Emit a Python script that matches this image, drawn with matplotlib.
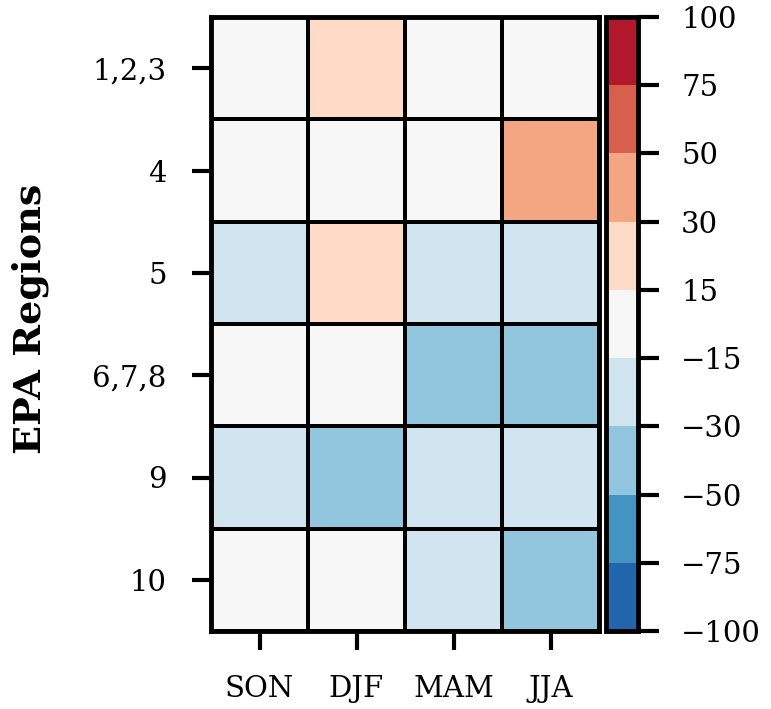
import numpy as np
import matplotlib
matplotlib.use("Agg")
import matplotlib.pyplot as plt
from matplotlib.colors import ListedColormap, BoundaryNorm

seasons = ["SON", "DJF", "MAM", "JJA"]
regions = ["1,2,3", "4", "5", "6,7,8", "9", "10"]

# percent change per region (rows) and season (cols)
vals = np.array([
    [2, 22, 5, 8],
    [-4, 6, 3, 40],
    [-20, 18, -22, -24],
    [-10, -3, -38, -40],
    [-22, -42, -25, -21],
    [0, 4, -20, -35],
])

bounds = [-100, -75, -50, -30, -15, 15, 30, 50, 75, 100]
colors = ["#2166ac", "#4393c3", "#92c5de", "#d1e5f0", "#f7f7f7",
          "#fddbc7", "#f4a582", "#d6604d", "#b2182b"]

plt.rcParams["font.family"] = "DejaVu Serif"

cmap = ListedColormap(colors)
norm = BoundaryNorm(bounds, cmap.N)

fig = plt.figure(figsize=(7.71, 7.09), dpi=100)
ax = fig.add_axes([211/771, 1-631/709, (599-211)/771, (631-17)/709])
cax = fig.add_axes([606/771, 1-631/709, (638-606)/771, (631-17)/709])

mesh = ax.pcolormesh(vals, cmap=cmap, norm=norm, edgecolors="black", linewidth=2.6)
ax.set_xlim(0, len(seasons))
ax.set_ylim(len(regions), 0)
ax.set_xticks(np.arange(len(seasons)) + 0.5)
ax.set_xticklabels(seasons)
ax.set_yticks(np.arange(len(regions)) + 0.5)
ax.set_yticklabels(regions)
ax.tick_params(labelsize=21, width=3, length=14)
ax.tick_params(axis="y", pad=18)
ax.tick_params(axis="x", pad=18)
for s in ax.spines.values():
    s.set_linewidth(3.5)

fig.text(30/771, 1-319/709, "EPA Regions", rotation=90, ha="center", va="center",
         fontsize=27.5, fontweight="bold")

cb = fig.colorbar(mesh, cax=cax, boundaries=bounds, ticks=bounds, spacing="uniform")
cb.outline.set_linewidth(3.5)
cax.tick_params(labelsize=21, width=3, length=15, pad=16)

fig.savefig("out.png", dpi=100)
